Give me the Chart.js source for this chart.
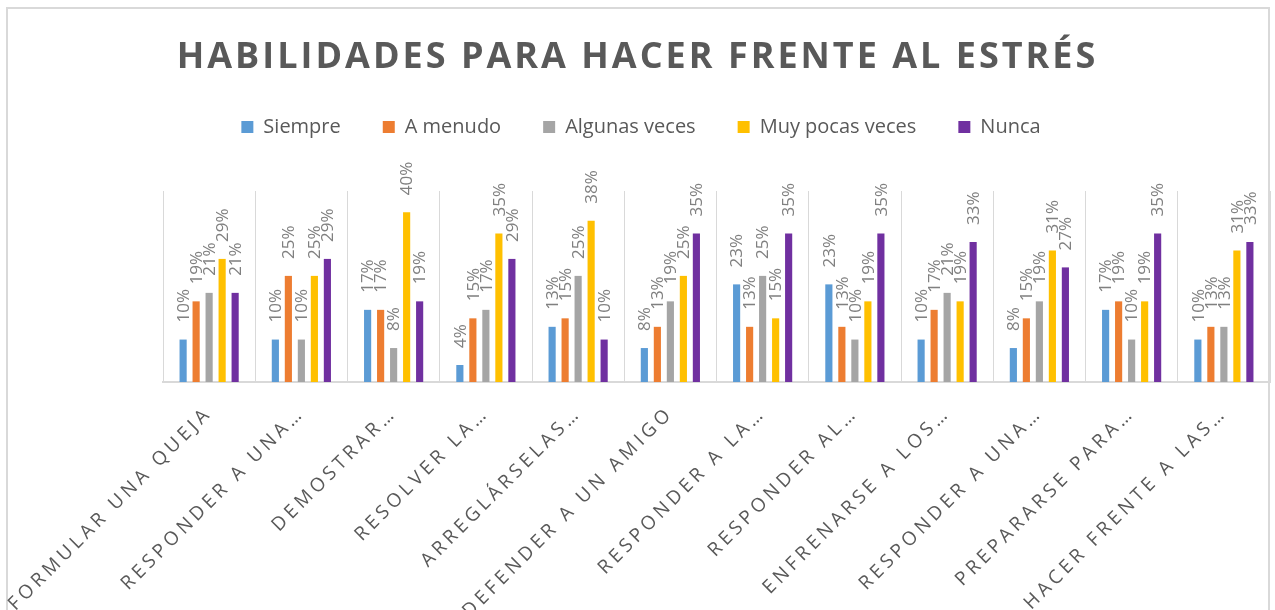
<!DOCTYPE html>
<html>
<head>
<meta charset="utf-8">
<script src="https://cdn.jsdelivr.net/npm/chart.js@4/dist/chart.umd.min.js"></script>
<style>
    html, body { margin: 0; padding: 0; background: #fff; }
    #wrap { position: relative; width: 1275px; height: 610px; overflow: hidden; }
    #frame { position: absolute; left: 6px; top: 7px; width: 1264px; height: 700px; box-sizing: border-box; border: 2px solid #d9d9d9; }
    #title { position: absolute; left: 0; top: 37px; width: 1275px; text-align: center; font: bold 36px 'Open Sans'; line-height: 1; letter-spacing: 3px; color: #595959; }
    canvas { position: absolute; left: 0; top: 0; }
</style>
</head>
<body>
<div id="wrap">
    <div id="frame"></div>
    <canvas id="chart" width="1275" height="610"></canvas>
    <div id="title">HABILIDADES PARA HACER FRENTE AL ESTRÉS</div>
</div>
<script>
// Datos
const categorias = ['FORMULAR UNA QUEJA', 'RESPONDER A UNA…', 'DEMOSTRAR…', 'RESOLVER LA…', 'ARREGLÁRSELAS…',
    'DEFENDER A UN AMIGO', 'RESPONDER A LA…', 'RESPONDER AL…', 'ENFRENARSE A LOS…', 'RESPONDER A UNA…',
    'PREPARARSE PARA…', 'HACER FRENTE A LAS…'];
const siempre = [10, 10, 17, 4, 13, 8, 23, 23, 10, 8, 17, 10];
const aMenudo = [19, 25, 17, 15, 15, 13, 13, 13, 17, 15, 19, 13];
const algunasVeces = [21, 10, 8, 17, 25, 19, 25, 10, 21, 19, 10, 13];
const muyPocasVeces = [29, 25, 40, 35, 38, 25, 15, 19, 19, 31, 19, 31];
const nunca = [21, 29, 19, 29, 10, 35, 35, 35, 33, 27, 35, 33];

const series = [
    { label: 'Siempre', data: siempre, color: '#5b9bd5' },
    { label: 'A menudo', data: aMenudo, color: '#ed7d31' },
    { label: 'Algunas veces', data: algunasVeces, color: '#a5a5a5' },
    { label: 'Muy pocas veces', data: muyPocasVeces, color: '#ffc000' },
    { label: 'Nunca', data: nunca, color: '#7030a0' }
];

// Etiquetas de datos rotadas + espaciado de letras para el eje X
const etiquetasPlugin = {
    id: 'etiquetas',
    beforeUpdate(chart) {
        const legend = chart.legend;
        if (legend && !legend._parcheado) {
            const fit = legend.fit;
            legend.fit = function () {
                fit.call(this);
                this.height += 44;
            };
            legend._parcheado = true;
        }
    },
    afterDatasetsDraw(chart) {
        const ctx = chart.ctx;
        ctx.save();
        ctx.font = '17px "Open Sans"';
        ctx.fillStyle = '#808080';
        ctx.textAlign = 'left';
        ctx.textBaseline = 'middle';
        chart.data.datasets.forEach((ds, i) => {
            chart.getDatasetMeta(i).data.forEach((bar, j) => {
                ctx.save();
                ctx.translate(bar.x + 1, bar.y - 17);
                ctx.rotate(-Math.PI / 2);
                ctx.fillText(ds.data[j] + '%', 0, 0);
                ctx.restore();
            });
        });
        ctx.restore();
        ctx.letterSpacing = '4px';
    },
    afterDraw(chart) {
        chart.ctx.letterSpacing = '0px';
    }
};

new Chart(document.getElementById('chart'), {
    type: 'bar',
    data: {
        labels: categorias,
        datasets: series.map(s => ({
            label: s.label,
            data: s.data,
            backgroundColor: s.color,
            borderWidth: 0,
            categoryPercentage: 0.705,
            barPercentage: 0.55
        }))
    },
    options: {
        responsive: false,
        animation: false,
        layout: { padding: { top: 75, left: 12, right: 5, bottom: 0 } },
        plugins: {
            title: { display: false },
            tooltip: { enabled: false },
            legend: {
                position: 'top',
                labels: {
                    boxWidth: 12,
                    boxHeight: 12,
                    padding: 42,
                    color: '#595959',
                    font: { family: 'Open Sans', size: 20 }
                }
            }
        },
        scales: {
            x: {
                grid: { offset: true, color: '#d9d9d9', lineWidth: 1, drawTicks: false },
                border: { color: '#d9d9d9', width: 2 },
                ticks: {
                    z: 1,
                    autoSkip: false,
                    minRotation: 45,
                    maxRotation: 45,
                    padding: 20,
                    color: '#595959',
                    font: { family: 'Open Sans', size: 19 }
                },
                afterFit(scale) { scale.height = 228; }
            },
            y: {
                min: 0,
                max: 45,
                grid: { display: false },
                border: { display: false },
                ticks: { display: false },
                afterFit(scale) { scale.width = 151; }
            }
        }
    },
    plugins: [etiquetasPlugin]
});
</script>
</body>
</html>
